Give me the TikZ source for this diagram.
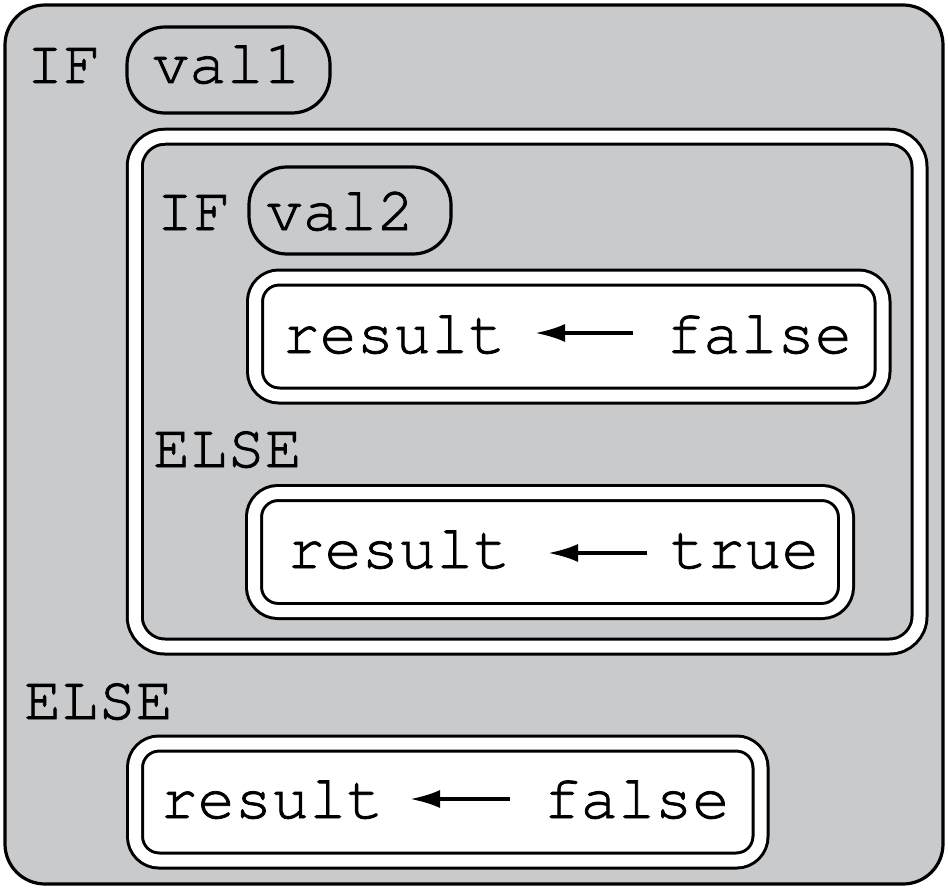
\documentclass[tikz,border=0pt]{standalone}
\usepackage[T1]{fontenc}
\usepackage{courier}
\usetikzlibrary{arrows.meta}
\definecolor{bggray}{RGB}{201,202,204}
\newcommand{\thicktext}{\special{pdf:literal direct 2 Tr 0.4 w}}
\tikzset{
  outerbox/.style={draw=black, line width=1.6pt, fill=bggray, rounded corners=20pt},
  pill/.style={draw=black, line width=1.6pt, rounded corners=19pt},
  dblbox/.style={draw=black, line width=1.5pt, double=white, double distance=6pt, rounded corners=#1},
  txt/.style={font=\ttfamily\fontsize{31}{36}\selectfont\thicktext, inner sep=0pt, anchor=base},
  arr/.style={line width=1.8pt, -{Latex[length=15pt,width=9pt]}}
}
\begin{document}
\begin{tikzpicture}[x=0.5pt,y=-0.5pt]
\useasboundingbox (0,0) rectangle (948,888);
% outer box
\draw[outerbox] (5,5) rectangle (943,884);
% IF val1
\node[txt] (if1) at (63.5,83) {IF};
\draw[pill] (127,27) rectangle (330,113);
\node[txt] (v1) at (226.5,83) {val1};
% nested IF box
\draw[dblbox=15pt, fill=bggray] (134.75,136.75) rectangle (919.5,646.5);
\node[txt] (if2) at (193.5,230) {IF};
\draw[pill] (249,167) rectangle (451,254);
\node[txt] (v2) at (340,230) {val2};
% result <- false (inner)
\draw[dblbox=12pt, fill=white] (255,277.5) rectangle (882.5,395.5);
\node[txt] (r1) at (394,353) {result};
\node[txt] (f1) at (759,353) {false};
\coordinate (a1s) at (633,333);
\coordinate (a1e) at (535,333);
\draw[arr] (a1s) -- (a1e);
% inner ELSE
\node[txt] (else2) at (227.5,467) {ELSE};
\draw[dblbox=12pt, fill=white] (254,493) rectangle (846,611);
\node[txt] (r2) at (399,568) {result};
\node[txt] (t2) at (744.5,568) {true};
\coordinate (a2s) at (647,553);
\coordinate (a2e) at (548,553);
\draw[arr] (a2s) -- (a2e);
% outer ELSE
\node[txt] (else1) at (98.5,719) {ELSE};
\draw[dblbox=12pt, fill=white] (135,743.5) rectangle (760.5,860.5);
\node[txt] (r3) at (272,818) {result};
\node[txt] (f3) at (636.5,818) {false};
\coordinate (a3s) at (510,799);
\coordinate (a3e) at (410,799);
\draw[arr] (a3s) -- (a3e);
\end{tikzpicture}
\end{document}
